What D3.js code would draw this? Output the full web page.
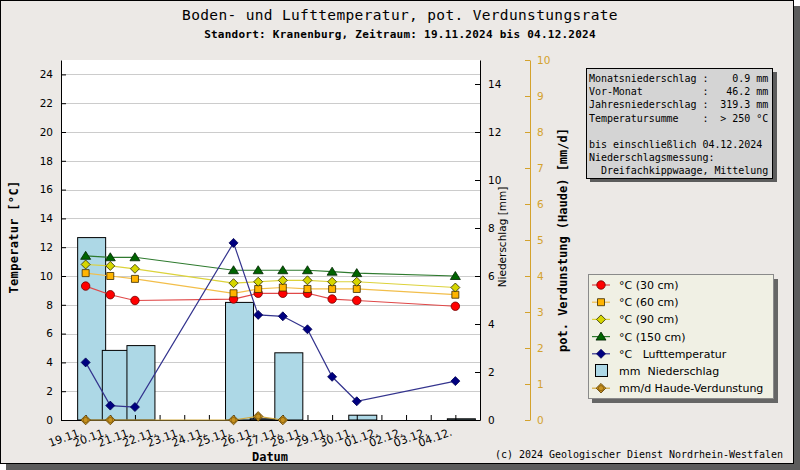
<!DOCTYPE html>
<html>
<head>
<meta charset="utf-8">
<script src="https://cdn.jsdelivr.net/npm/d3@7"></script>
<style>
  body { margin: 0; background: #fff; }
  svg { display: block; }
  text { white-space: pre; }
</style>
</head>
<body>
<svg id="chart" width="800" height="470"></svg>
<script>
// days shown on the x axis
var days = ['19.11.', '20.11.', '21.11.', '22.11.', '23.11.', '24.11.', '25.11.', '26.11.',
            '27.11.', '28.11.', '29.11.', '30.11.', '01.12.', '02.12.', '03.12.', '04.12.'];

// soil temperatures [°C], null = no value that day
var t30  = [9.3, 8.7, 8.3, null, null, null, 8.4, 8.8, 8.8, 8.8, 8.4, 8.3, null, null, null, 7.9];
var t60  = [10.2, 10.0, 9.8, null, null, null, 8.8, 9.1, 9.2, 9.1, 9.1, 9.1, null, null, null, 8.7];
var t90  = [10.8, 10.7, 10.5, null, null, null, 9.5, 9.6, 9.7, 9.7, 9.6, 9.6, null, null, null, 9.2];
var t150 = [11.4, 11.3, 11.3, null, null, null, 10.4, 10.4, 10.4, 10.4, 10.3, 10.2, null, null, null, 10.0];
var tAir = [4.0, 1.0, 0.9, null, null, null, 12.3, 7.3, 7.2, 6.3, 3.0, 1.3, null, null, null, 2.7];

// precipitation [mm] and Haude evaporation [mm/d]
var precip = [7.6, 2.9, 3.1, null, null, null, 4.9, 0.05, 2.8, null, null, 0.2, null, null, null, 0.05];
var haude  = [0, 0, null, null, null, null, 0, 0.1, 0, null, null, null, null, null, null, null];

var tempTicks = d3.range(0, 25, 2);
var precipTicks = d3.range(0, 15, 2);
var evapTicks = d3.range(0, 11, 1);

var legendLabels = ['°C (30 cm)', '°C (60 cm)', '°C (90 cm)', '°C (150 cm)',
                    '°C   Lufttemperatur', 'mm  Niederschlag', 'mm/d Haude-Verdunstung'];

var infoLines = [
  'Monatsniederschlag :    0.9 mm',
  'Vor-Monat          :   46.2 mm',
  'Jahresniederschlag :  319.3 mm',
  'Temperatursumme    :  > 250 °C',
  '',
  'bis einschließlich 04.12.2024',
  'Niederschlagsmessung:',
  '  Dreifachkippwaage, Mittelung'
];

var W = 800, H = 470;
var plot = {left: 61, right: 480, top: 60, bottom: 420};
var gold = '#d4a22c';
var mono = '"DejaVu Sans Mono", "Liberation Mono", monospace';
var sans = '"DejaVu Sans", Verdana, sans-serif';

var svg = d3.select('#chart');

// frame with shadow
svg.append('rect').attr('x', 6).attr('y', 6).attr('width', W - 6).attr('height', H - 6)
  .attr('fill', '#5c5c5c');
svg.append('rect').attr('x', 0.5).attr('y', 0.5).attr('width', 793).attr('height', 463)
  .attr('fill', '#ece9e6').attr('stroke', '#000');

svg.append('text').attr('x', 400).attr('y', 20).attr('text-anchor', 'middle')
  .style('font-family', mono).style('font-size', '14.5px').style('letter-spacing', '0.35px')
  .text('Boden- und Lufttemperatur, pot. Verdunstungsrate');
svg.append('text').attr('x', 400).attr('y', 38).attr('text-anchor', 'middle')
  .style('font-family', mono).style('font-size', '11px').style('font-weight', 'bold')
  .style('letter-spacing', '0.25px')
  .text('Standort: Kranenburg, Zeitraum: 19.11.2024 bis 04.12.2024');

var x = d3.scaleLinear().domain([-1, days.length]).range([plot.left, plot.right]);
var yT = d3.scaleLinear().domain([0, 25]).range([plot.bottom, plot.top]);
var yP = d3.scaleLinear().domain([0, 15]).range([plot.bottom, plot.top]);
var yE = d3.scaleLinear().domain([0, 10]).range([plot.bottom, plot.top]);

svg.append('rect').attr('x', plot.left).attr('y', plot.top)
  .attr('width', plot.right - plot.left).attr('height', plot.bottom - plot.top)
  .attr('fill', '#fff');

// grid at the temperature ticks
svg.append('g').selectAll('line').data(tempTicks).enter().append('line')
  .attr('x1', plot.left).attr('x2', plot.right)
  .attr('y1', function(d) { return Math.round(yT(d)) + 0.5; })
  .attr('y2', function(d) { return Math.round(yT(d)) + 0.5; })
  .attr('stroke', '#cccccc');

// precipitation bars
var bars = precip.map(function(v, i) { return {i: i, v: v}; })
  .filter(function(d) { return d.v !== null; });
svg.append('g').selectAll('rect').data(bars).enter().append('rect')
  .attr('x', function(d) { return x(d.i) - 8; })
  .attr('width', 28)
  .attr('y', function(d) { return yP(d.v); })
  .attr('height', function(d) { return yP(0) - yP(d.v); })
  .attr('fill', '#add8e6').attr('stroke', '#000').attr('stroke-width', 1);

function styleAxis(g, color) {
  g.selectAll('path, line').attr('stroke', color);
  g.selectAll('text').attr('fill', color)
    .style('font-family', sans).style('font-size', '10.5px');
}

// left temperature axis
var gL = svg.append('g').attr('transform', 'translate(' + plot.left + ',0)');
gL.call(d3.axisLeft(yT).tickValues(d3.range(1, 25, 2)).tickSizeInner(-3).tickSizeOuter(0).tickFormat(''));
gL.call(d3.axisLeft(yT).tickValues(tempTicks).tickSizeInner(-5).tickSizeOuter(0).tickPadding(8));
styleAxis(gL, '#000');

// right precipitation axis
var gR = svg.append('g').attr('transform', 'translate(' + plot.right + ',0)');
gR.call(d3.axisRight(yP).tickValues(d3.range(1, 15, 2)).tickSizeInner(-3).tickSizeOuter(0).tickFormat(''));
gR.call(d3.axisRight(yP).tickValues(precipTicks).tickSizeInner(-5).tickSizeOuter(0).tickPadding(8));
styleAxis(gR, '#000');

// evaporation axis
var gE = svg.append('g').attr('transform', 'translate(530,0)');
gE.call(d3.axisRight(yE).tickValues(evapTicks).tickSizeInner(-5).tickSizeOuter(0).tickPadding(7));
styleAxis(gE, gold);

// x axis
var gX = svg.append('g').attr('transform', 'translate(0,' + plot.bottom + ')');
gX.call(d3.axisBottom(x).tickValues(d3.range(days.length)).tickSizeInner(-5).tickSizeOuter(0).tickFormat(''));
gX.selectAll('path, line').attr('stroke', '#000');
gX.selectAll('.tick').append('text')
  .attr('transform', 'translate(-3,15) rotate(-20)')
  .attr('text-anchor', 'end').attr('fill', '#000')
  .style('font-family', sans).style('font-size', '11px')
  .text(function(d) { return days[d]; });

// axis titles
svg.append('text').attr('transform', 'translate(14,237) rotate(-90)').attr('dy', '0.35em')
  .attr('text-anchor', 'middle').style('font-family', mono).style('font-weight', 'bold')
  .style('font-size', '12px').style('letter-spacing', '0.3px').text('Temperatur [°C]');
svg.append('text').attr('transform', 'translate(502,237) rotate(-90)').attr('dy', '0.35em')
  .attr('text-anchor', 'middle').style('font-family', sans)
  .style('font-size', '10.5px').text('Niederschlag [mm]');
svg.append('text').attr('transform', 'translate(563,240) rotate(-90)').attr('dy', '0.35em')
  .attr('text-anchor', 'middle').style('font-family', mono).style('font-weight', 'bold')
  .style('font-size', '12px').text('pot. Verdunstung (Haude) [mm/d]');
svg.append('text').attr('x', 270).attr('y', 461).attr('text-anchor', 'middle')
  .style('font-family', mono).style('font-weight', 'bold').style('font-size', '12px')
  .text('Datum');
svg.append('text').attr('x', 783).attr('y', 458).attr('text-anchor', 'end')
  .style('font-family', mono).style('font-size', '10px').style('letter-spacing', '-0.02px')
  .text('(c) 2024 Geologischer Dienst Nordrhein-Westfalen');

// marker shapes
function diamond(r) { return 'M0,' + (-r) + 'L' + r + ',0L0,' + r + 'L' + (-r) + ',0Z'; }
var shapes = {
  circle: d3.symbol().type(d3.symbolCircle).size(56)(),
  square: 'M-3.5,-3.5H3.5V3.5H-3.5Z',
  diamond: diamond(4.5),
  triangle: 'M0,-4.5L5,3.5L-5,3.5Z',
  haude: diamond(4.8)
};

var series = [
  {values: t30,  scale: yT, line: '#e04848', fill: '#ff0000', stroke: '#700000', shape: 'circle'},
  {values: t60,  scale: yT, line: '#f2be4a', fill: '#ffb400', stroke: '#3a2a00', shape: 'square'},
  {values: t90,  scale: yT, line: '#dcd23a', fill: '#d6d600', stroke: '#2a2a00', shape: 'diamond'},
  {values: t150, scale: yT, line: '#2e7a2e', fill: '#006400', stroke: '#002200', shape: 'triangle'},
  {values: tAir, scale: yT, line: '#34348e', fill: '#000080', stroke: '#000050', shape: 'diamond'},
  {values: haude, scale: yE, line: '#d2aa40', fill: '#c8921e', stroke: '#5a3c00', shape: 'haude'}
];

series.forEach(function(s) {
  var pts = s.values.map(function(v, i) { return {i: i, v: v}; })
    .filter(function(d) { return d.v !== null; });
  var line = d3.line()
    .x(function(d) { return x(d.i); })
    .y(function(d) { return s.scale(d.v); });
  svg.append('path').datum(pts).attr('d', line)
    .attr('fill', 'none').attr('stroke', s.line).attr('stroke-width', 1.2);
  var g = svg.append('g');
  g.selectAll('path').data(pts).enter().append('path')
    .attr('transform', function(d) { return 'translate(' + x(d.i) + ',' + s.scale(d.v) + ')'; })
    .attr('d', shapes[s.shape])
    .attr('fill', s.fill).attr('stroke', s.stroke).attr('stroke-width', 0.8);
  if (s.shape === 'haude') {
    g.selectAll('circle').data(pts).enter().append('circle')
      .attr('cx', function(d) { return x(d.i); })
      .attr('cy', function(d) { return s.scale(d.v); })
      .attr('r', 2.6).attr('fill', s.fill).attr('stroke', s.stroke).attr('stroke-width', 0.5);
  }
});

// info box
var info = svg.append('g');
info.append('rect').attr('x', 590).attr('y', 72).attr('width', 187).attr('height', 110).attr('fill', '#5c5c5c');
info.append('rect').attr('x', 586.5).attr('y', 68.5).attr('width', 186).attr('height', 110)
  .attr('fill', '#d4d4d4').attr('stroke', '#000');
info.selectAll('text').data(infoLines).enter().append('text')
  .attr('x', 589).attr('y', function(d, i) { return 82 + i * 13.2; })
  .style('font-family', mono).style('font-size', '10px').style('letter-spacing', '-0.05px')
  .text(function(d) { return d; });

// legend
var leg = svg.append('g');
leg.append('rect').attr('x', 592).attr('y', 279).attr('width', 186).attr('height', 124).attr('fill', '#666');
leg.append('rect').attr('x', 588.5).attr('y', 274.5).attr('width', 185).attr('height', 124)
  .attr('fill', '#f0f0e4').attr('stroke', '#8a8a8a');
legendLabels.forEach(function(label, i) {
  var cy = 285 + i * 17.2;
  if (i === 5) {
    leg.append('rect').attr('x', 595.5).attr('y', cy - 6.5).attr('width', 12).attr('height', 12)
      .attr('fill', '#add8e6').attr('stroke', '#000');
  } else {
    var s = series[i === 6 ? 5 : i];
    leg.append('line').attr('x1', 592).attr('x2', 610).attr('y1', cy).attr('y2', cy)
      .attr('stroke', s.line).attr('stroke-width', 1.2);
    leg.append('path').attr('transform', 'translate(601,' + cy + ')')
      .attr('d', shapes[s.shape]).attr('fill', s.fill).attr('stroke', s.stroke).attr('stroke-width', 0.8);
    if (s.shape === 'haude') {
      leg.append('circle').attr('cx', 601).attr('cy', cy).attr('r', 2.6)
        .attr('fill', s.fill).attr('stroke', s.stroke).attr('stroke-width', 0.5);
    }
  }
  leg.append('text').attr('x', 619).attr('y', cy + 4)
    .style('font-family', sans).style('font-size', '11px')
    .text(label);
});
</script>
</body>
</html>
